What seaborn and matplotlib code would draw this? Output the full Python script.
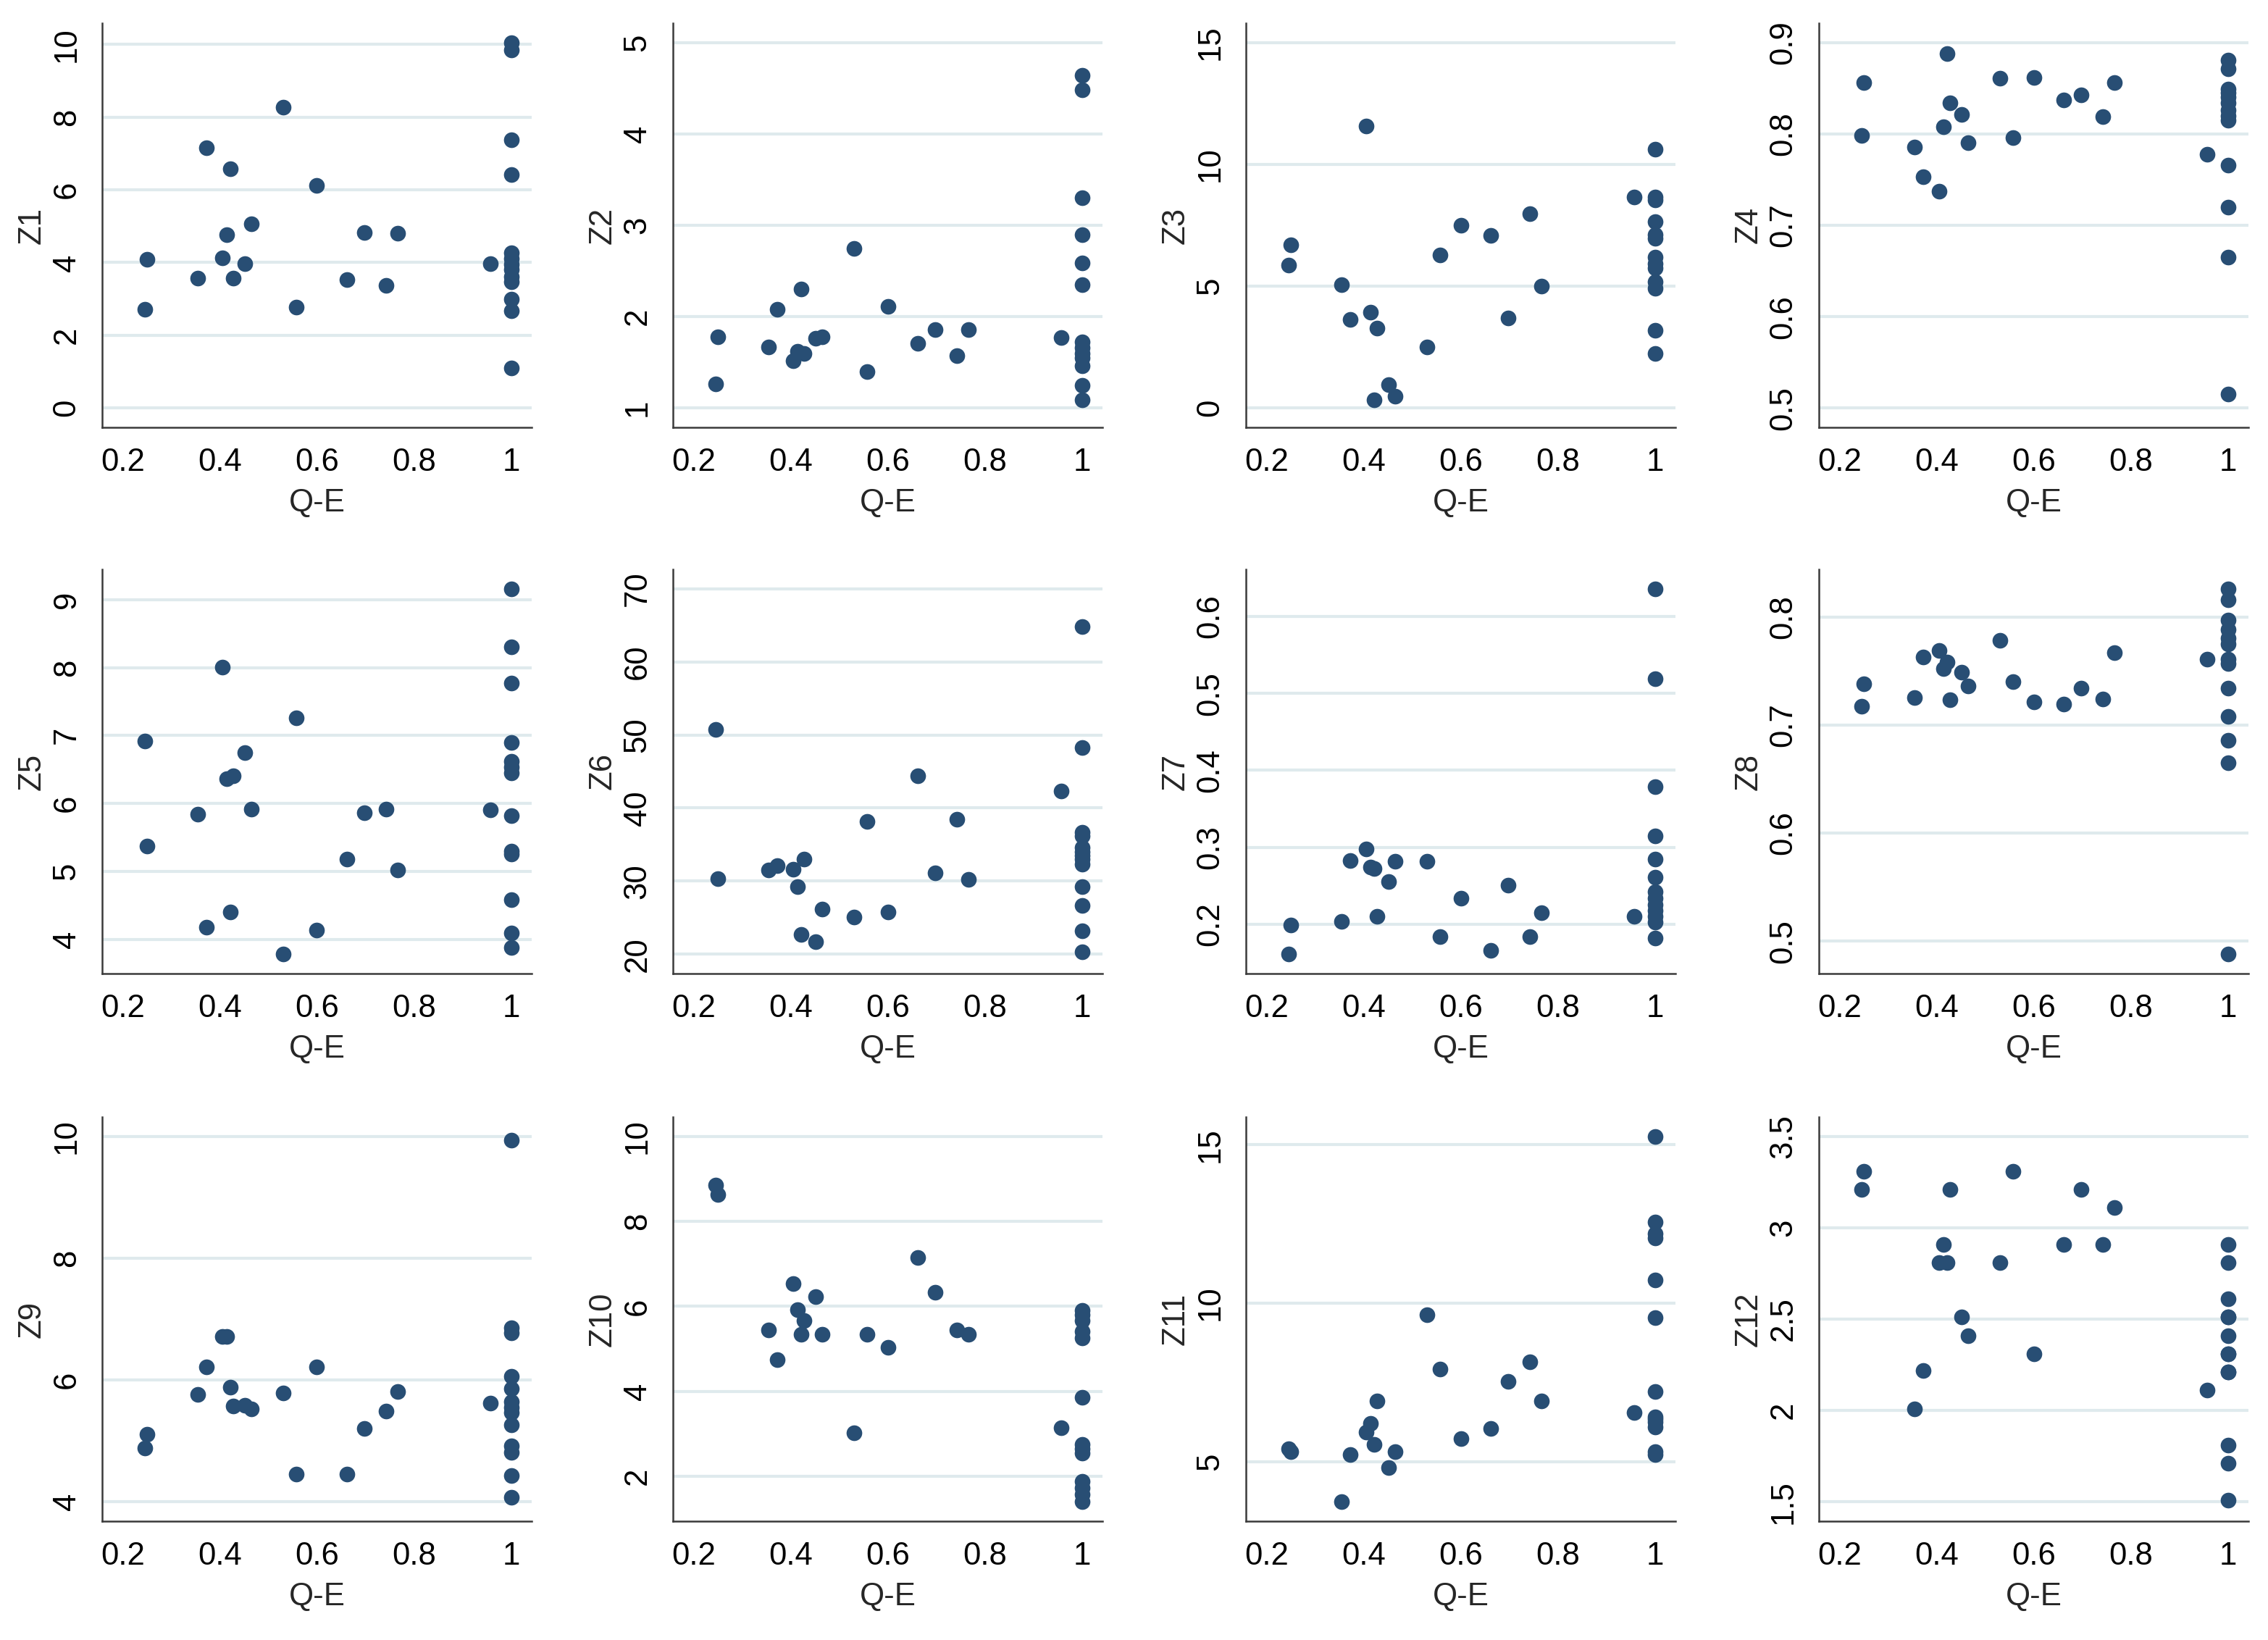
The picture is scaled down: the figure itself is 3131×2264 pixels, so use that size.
import numpy as np
import matplotlib
matplotlib.use("Agg")
import matplotlib.pyplot as plt
import matplotlib.ticker as mticker
import seaborn as sns

# ===============================
# 1. Data
# ===============================
# Q-E values shared by every panel: 18 interior points, 13 points at Q-E = 1
qe = [0.245, 0.250, 0.355, 0.373, 0.405, 0.414, 0.421, 0.428, 0.451, 0.465,
      0.531, 0.558, 0.600, 0.662, 0.697, 0.742, 0.766, 0.957] + [1.0] * 13

z1 = [2.71, 4.09, 3.58, 7.16, 4.12, 4.76, 6.58, 3.58, 3.96, 5.07, 8.27, 2.78, 6.13, 3.53, 4.83, 3.37, 4.80, 3.96,
      10.05, 9.85, 7.37, 6.41, 4.27, 4.10, 3.95, 3.80, 3.62, 3.48, 2.99, 2.67, 1.11]
z2 = [1.26, 1.78, 1.67, 2.08, 1.52, 1.62, 2.30, 1.60, 1.76, 1.78, 2.75, 1.40, 2.11, 1.71, 1.86, 1.57, 1.86, 1.77,
      4.64, 4.48, 3.30, 2.90, 2.59, 2.35, 1.72, 1.66, 1.60, 1.55, 1.46, 1.25, 1.09]
z3 = [5.87, 6.71, 5.06, 3.64, 11.58, 3.93, 0.32, 3.28, 0.97, 0.48, 2.51, 6.29, 7.49, 7.07, 3.70, 7.97, 5.00, 8.66,
      10.62, 8.66, 8.55, 7.65, 7.10, 6.96, 6.20, 5.93, 5.75, 5.17, 4.92, 3.20, 2.23]
z4 = [0.798, 0.856, 0.786, 0.753, 0.737, 0.808, 0.888, 0.834, 0.821, 0.790, 0.861, 0.796, 0.862, 0.837, 0.843,
      0.819, 0.856, 0.778,
      0.881, 0.871, 0.849, 0.845, 0.840, 0.834, 0.826, 0.820, 0.815, 0.766, 0.720, 0.665, 0.515]
z5 = [6.92, 5.37, 5.84, 4.18, 8.01, 6.36, 4.40, 6.41, 6.75, 5.92, 3.78, 7.26, 4.13, 5.18, 5.86, 5.92, 5.02, 5.90,
      9.16, 8.30, 7.77, 6.90, 6.62, 6.53, 6.45, 5.82, 5.30, 5.25, 4.58, 4.09, 3.88]
z6 = [50.7, 30.3, 31.5, 32.1, 31.6, 29.2, 22.7, 33.0, 21.7, 26.2, 25.1, 38.2, 25.8, 44.4, 31.1, 38.5, 30.2, 42.3,
      64.8, 48.3, 36.7, 36.2, 34.6, 34.0, 33.5, 33.0, 32.3, 29.2, 26.7, 23.2, 20.3]
z7 = [0.161, 0.199, 0.204, 0.283, 0.298, 0.274, 0.272, 0.210, 0.255, 0.282, 0.282, 0.184, 0.234, 0.166, 0.251,
      0.184, 0.215, 0.210,
      0.636, 0.519, 0.379, 0.315, 0.285, 0.261, 0.242, 0.234, 0.225, 0.218, 0.210, 0.203, 0.182]
z8 = [0.717, 0.738, 0.725, 0.763, 0.769, 0.752, 0.758, 0.723, 0.749, 0.736, 0.778, 0.740, 0.721, 0.719, 0.734,
      0.724, 0.767, 0.761,
      0.826, 0.816, 0.797, 0.788, 0.780, 0.775, 0.761, 0.757, 0.734, 0.708, 0.686, 0.665, 0.488]
z9 = [4.88, 5.11, 5.76, 6.22, 6.71, 6.71, 5.88, 5.57, 5.58, 5.53, 5.79, 4.46, 6.22, 4.46, 5.20, 5.49, 5.81, 5.62,
      9.94, 6.86, 6.77, 6.06, 5.86, 5.64, 5.55, 5.46, 5.26, 4.92, 4.81, 4.43, 4.08]
z10 = [8.86, 8.63, 5.44, 4.74, 6.54, 5.92, 5.35, 5.66, 6.23, 5.35, 3.03, 5.35, 5.04, 7.15, 6.33, 5.44, 5.35, 3.14,
       5.90, 5.80, 5.66, 5.41, 5.25, 3.86, 2.75, 2.65, 2.55, 1.89, 1.73, 1.57, 1.40]
z11 = [5.42, 5.33, 3.74, 5.22, 5.93, 6.22, 5.55, 6.92, 4.82, 5.33, 9.64, 7.92, 5.73, 6.05, 7.54, 8.15, 6.92, 6.56,
       15.26, 12.56, 12.20, 12.06, 10.73, 9.55, 7.22, 6.42, 6.35, 6.26, 6.10, 5.33, 5.22]
z12 = [3.21, 3.31, 2.01, 2.22, 2.81, 2.91, 2.81, 3.21, 2.51, 2.41, 2.81, 3.31, 2.31, 2.91, 3.21, 2.91, 3.11, 2.11,
       2.91, 2.81, 2.61, 2.51, 2.51, 2.41, 2.31, 2.31, 2.21, 2.21, 1.81, 1.71, 1.51]

names = ["Z1", "Z2", "Z3", "Z4", "Z5", "Z6", "Z7", "Z8", "Z9", "Z10", "Z11", "Z12"]
series = [z1, z2, z3, z4, z5, z6, z7, z8, z9, z10, z11, z12]
yticks = [
    [0, 2, 4, 6, 8, 10],
    [1, 2, 3, 4, 5],
    [0, 5, 10, 15],
    [0.5, 0.6, 0.7, 0.8, 0.9],
    [4, 5, 6, 7, 8, 9],
    [20, 30, 40, 50, 60, 70],
    [0.2, 0.3, 0.4, 0.5, 0.6],
    [0.5, 0.6, 0.7, 0.8],
    [4, 6, 8, 10],
    [2, 4, 6, 8, 10],
    [5, 10, 15],
    [1.5, 2, 2.5, 3, 3.5],
]
xticks = [0.2, 0.4, 0.6, 0.8, 1]

# ===============================
# 2. Style
# ===============================
sns.set_style("white")
plt.rcParams['font.family'] = ['Liberation Sans', 'DejaVu Sans']

MARKER = "#284e74"
GRID = "#dfeaed"
AXIS = "#3a3a3a"
FS = 10.5


def padded(vals, ticks, frac=0.053):
    # Stata-like range: cover data and ticks, plus a small margin
    lo = min(min(vals), ticks[0])
    hi = max(max(vals), ticks[-1])
    pad = (hi - lo) * frac
    return lo - pad, hi + pad


# ===============================
# 3. Figure layout (pixels of the 3131x2264 canvas)
# ===============================
W, H = 3131, 2264
fig = plt.figure(figsize=(W / 300, H / 300), dpi=300)
col_left = [141, 929, 1720, 2511]
row_top = [32, 786, 1542]
ax_w, ax_h = 593, 558

fmt = mticker.FuncFormatter(lambda v, p: f"{v:g}")

for i, (name, yvals, ticks) in enumerate(zip(names, series, yticks)):
    r, c = divmod(i, 4)
    ax = fig.add_axes([col_left[c] / W, 1 - (row_top[r] + ax_h) / H, ax_w / W, ax_h / H])

    sns.scatterplot(x=qe, y=yvals, ax=ax, color=MARKER, s=27, linewidth=0, zorder=3)

    ax.set_xticks(xticks)
    ax.set_yticks(ticks)
    ax.xaxis.set_major_formatter(fmt)
    ax.yaxis.set_major_formatter(fmt)
    ax.set_xlim(*padded(qe, xticks))
    ax.set_ylim(*padded(yvals, ticks))

    ax.set_axisbelow(True)
    ax.grid(axis='y', color=GRID, linewidth=1.0)
    ax.grid(axis='x', visible=False)

    for side in ['top', 'right']:
        ax.spines[side].set_visible(False)
    for side in ['left', 'bottom']:
        ax.spines[side].set_color(AXIS)
        ax.spines[side].set_linewidth(0.6)

    ax.tick_params(axis='both', direction='out', length=4.6, width=0.6,
                   color='#555555', labelsize=FS, pad=2.2, labelcolor='black')
    ax.tick_params(axis='y', labelrotation=90)
    plt.setp(ax.get_yticklabels(), va='center')

    ax.set_xlabel("Q-E", fontsize=FS)
    ax.set_ylabel(name, fontsize=FS)
    ax.xaxis.set_label_coords(0.5, -0.15)
    ax.yaxis.set_label_coords(-0.128, 0.5)

fig.savefig("out.png", dpi=300)
